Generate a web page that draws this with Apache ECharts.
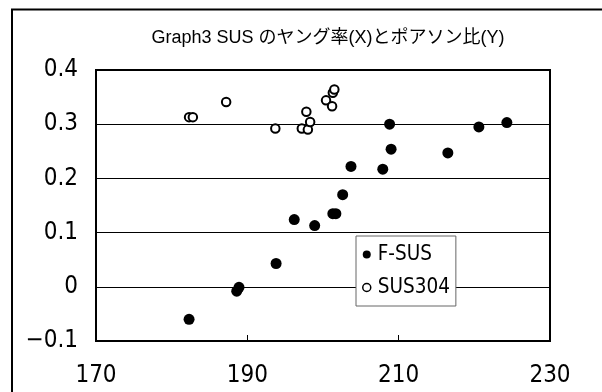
<!DOCTYPE html>
<html>
<head>
<meta charset="utf-8">
<script src="https://cdn.jsdelivr.net/npm/echarts@6/dist/echarts.min.js"></script>
<style>
html,body{margin:0;padding:0;background:#fff;}
#c{width:602px;height:392px;}
</style>
</head>
<body>
<div id="c"></div>
<script>
var titleText = 'Graph3 SUS のヤング率(X)とポアソン比(Y)';
var seriesNames = ['F-SUS', 'SUS304'];
var fsusX = [182.3, 188.6, 188.9, 193.8, 196.2, 198.9, 201.3, 201.7, 202.6, 203.7, 207.9, 208.8, 209.0, 216.5, 220.6, 224.3];
var fsusY = [-0.060, -0.008, -0.001, 0.043, 0.124, 0.113, 0.135, 0.135, 0.170, 0.222, 0.217, 0.300, 0.254, 0.247, 0.295, 0.303];
var sus304X = [182.3, 182.8, 187.2, 193.7, 197.2, 198.0, 197.8, 198.3, 200.4, 201.2, 201.3, 201.5];
var sus304Y = [0.313, 0.313, 0.341, 0.292, 0.292, 0.290, 0.323, 0.304, 0.344, 0.333, 0.358, 0.364];
var xTicks = [170, 190, 210, 230];
var yTicks = [-0.1, 0, 0.1, 0.2, 0.3, 0.4];

function pairs(xs, ys) { return xs.map(function (x, i) { return [x, ys[i]]; }); }

var axisFont = '"Liberation Sans Narrow", "DejaVu Sans Condensed", "Liberation Sans", sans-serif';
var chart = echarts.init(document.getElementById('c'), null, {renderer: 'canvas'});
chart.setOption({
  animation: false,
  backgroundColor: '#fff',
  graphic: [
    {type: 'rect', z: -10, shape: {x: 12, y: 9.5, width: 700, height: 500},
     style: {fill: 'none', stroke: '#000', lineWidth: 2}},
    {type: 'text', x: 328, y: 38,
     style: {text: titleText, align: 'center', verticalAlign: 'middle',
             font: '18px "Liberation Sans", "Noto Sans CJK JP", sans-serif', fill: '#000'}}
  ],
  grid: {left: 96, top: 70, right: 52, bottom: 51, show: true, borderColor: '#000', borderWidth: 2, backgroundColor: 'transparent'},
  legend: {
    orient: 'vertical', left: 356, top: 236,
    padding: [8, 6, 8, 6], itemGap: 12, itemWidth: 12, itemHeight: 8,
    backgroundColor: '#fff', borderColor: '#666', borderWidth: 1, borderRadius: 0,
    textStyle: {fontFamily: axisFont, fontSize: 20.5, color: '#000', lineHeight: 21},
    data: [
      {name: seriesNames[0], icon: 'circle', itemStyle: {color: '#000', borderWidth: 0}},
      {name: seriesNames[1], icon: 'circle', itemStyle: {color: '#fff', borderColor: '#000', borderWidth: 1.5}}
    ]
  },
  xAxis: {
    type: 'value', min: xTicks[0], max: xTicks[xTicks.length - 1], interval: 20,
    axisLine: {onZero: false, lineStyle: {color: '#000', width: 2}},
    axisTick: {show: true, inside: true, length: 6, lineStyle: {color: '#000', width: 1}},
    splitLine: {show: false},
    axisLabel: {color: '#000', fontFamily: axisFont, fontSize: 24, margin: 23}
  },
  yAxis: {
    type: 'value', min: yTicks[0], max: yTicks[yTicks.length - 1], interval: 0.1,
    axisLine: {onZero: false, lineStyle: {color: '#000', width: 2}},
    axisTick: {show: false},
    splitLine: {show: true, lineStyle: {color: '#000', width: 1.2}},
    axisLabel: {color: '#000', fontFamily: axisFont, fontSize: 24, margin: 18, padding: [6, 0, 0, 0],
      formatter: function (v) { return String(Math.round(v * 10) / 10).replace('-', '\u2212'); }}
  },
  series: [
    {name: seriesNames[0], type: 'scatter', data: pairs(fsusX, fsusY), symbol: 'circle', symbolSize: 11,
     itemStyle: {color: '#000', opacity: 1}},
    {name: seriesNames[1], type: 'scatter', data: pairs(sus304X, sus304Y), symbol: 'circle', symbolSize: 8.5,
     itemStyle: {color: '#fff', borderColor: '#000', borderWidth: 2, opacity: 1}}
  ]
});
</script>
</body>
</html>
